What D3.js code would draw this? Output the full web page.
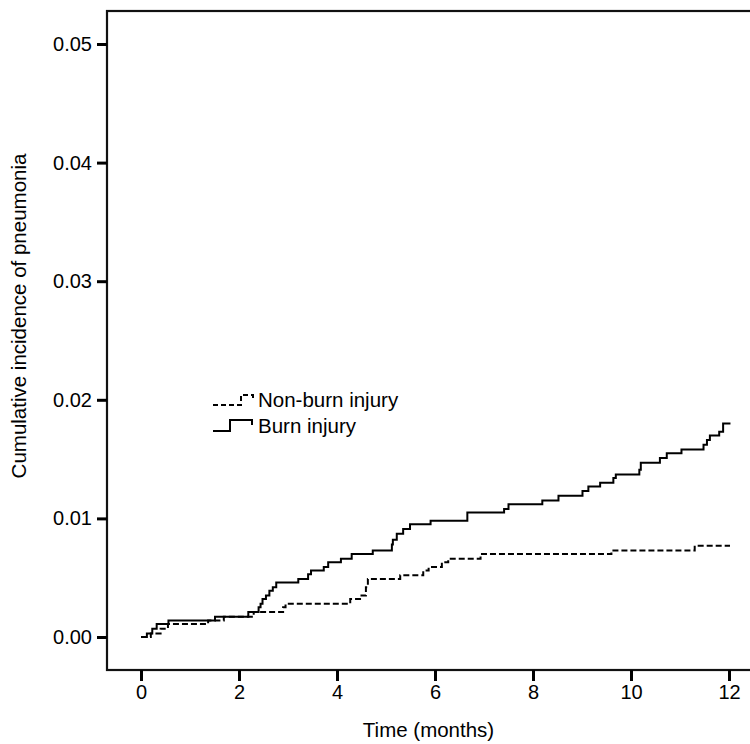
<!DOCTYPE html>
<html>
<head>
<meta charset="utf-8">
<script src="https://cdn.jsdelivr.net/npm/d3@7"></script>
<style>
  body { margin: 0; background: #fff; }
  text { font-family: Arial, "Liberation Sans", sans-serif; fill: #000; }
</style>
</head>
<body>
<div id="chart"></div>
<script>
// step points (time in months, cumulative incidence)
var burnTime = [0, 0.12, 0.23, 0.32, 0.56, 1.51, 2.19, 2.40, 2.44, 2.48, 2.55, 2.62, 2.69, 2.76, 3.21, 3.41, 3.47, 3.73, 3.82, 4.08, 4.30, 4.73, 5.12, 5.14, 5.22, 5.35, 5.49, 5.91, 6.66, 7.41, 7.50, 8.19, 8.52, 9.01, 9.13, 9.37, 9.64, 9.69, 10.17, 10.20, 10.59, 10.73, 11.03, 11.48, 11.55, 11.61, 11.80, 11.88, 12.03]
var burnValue = [0, 0.0003, 0.0007, 0.0011, 0.0014, 0.0017, 0.0021, 0.0025, 0.0028, 0.0032, 0.0035, 0.0039, 0.0042, 0.0046, 0.0049, 0.0053, 0.0056, 0.0059, 0.0063, 0.0066, 0.0070, 0.0073, 0.0078, 0.0082, 0.0087, 0.0091, 0.0095, 0.0098, 0.0105, 0.0108, 0.0112, 0.0115, 0.0119, 0.0123, 0.0127, 0.0130, 0.0134, 0.0137, 0.0141, 0.0147, 0.0151, 0.0155, 0.0158, 0.0162, 0.0166, 0.0170, 0.0173, 0.0180, 0.0180]

var nonBurnTime = [0, 0.20, 0.40, 0.55, 1.37, 1.69, 2.30, 2.90, 2.95, 4.27, 4.47, 4.59, 4.63, 5.29, 5.76, 5.87, 6.14, 6.27, 6.93, 9.60, 11.30, 12.02]
var nonBurnValue = [0, 0.0003, 0.0007, 0.0011, 0.0014, 0.0017, 0.0021, 0.0025, 0.0028, 0.0032, 0.0035, 0.0042, 0.0049, 0.0052, 0.0056, 0.0059, 0.0063, 0.0066, 0.0070, 0.0073, 0.0077, 0.0077]

var xTicks = [0, 2, 4, 6, 8, 10, 12]
var yTicks = [0, 0.01, 0.02, 0.03, 0.04, 0.05]
var legendLabels = ["Non-burn injury", "Burn injury"]

var width = 750
var height = 744
// frame of the plot (right side runs off the picture)
var frame = {left: 107, top: 11, right: 752, bottom: 670}

var svg = d3.select("#chart")
  .append("svg")
    .attr("width", width)
    .attr("height", height)

var x = d3.scaleLinear().domain([0, 12]).range([141, 729])
var y = d3.scaleLinear().domain([0, 0.05]).range([637, 44])

// box
svg.append("rect")
  .attr("x", frame.left)
  .attr("y", frame.top)
  .attr("width", frame.right - frame.left)
  .attr("height", frame.bottom - frame.top)
  .attr("fill", "none")
  .attr("stroke", "#111")
  .attr("stroke-width", 2.2)

// axes
var yAxis = svg.append("g")
  .attr("transform", "translate(" + frame.left + ",0)")
  .call(d3.axisLeft(y).tickValues(yTicks).tickFormat(d3.format(".2f")).tickSize(10).tickPadding(5))
var xAxis = svg.append("g")
  .attr("transform", "translate(0," + frame.bottom + ")")
  .call(d3.axisBottom(x).tickValues(xTicks).tickSize(11).tickPadding(4))

svg.selectAll(".domain").remove()
svg.selectAll(".tick line").attr("stroke", "#000").attr("stroke-width", 3)
svg.selectAll(".tick text")
  .style("font-size", "20px")
  .style("font-family", 'Arial, "Liberation Sans", sans-serif')
  .attr("fill", "#000")

// axis titles
svg.append("text")
  .attr("x", (frame.left + width) / 2)
  .attr("y", 737)
  .attr("text-anchor", "middle")
  .style("font-size", "20.5px")
  .text("Time (months)")

svg.append("text")
  .attr("transform", "translate(26,316) rotate(-90)")
  .attr("text-anchor", "middle")
  .style("font-size", "20.5px")
  .text("Cumulative incidence of pneumonia")

// the two step curves
var step = d3.line()
  .x(function(d) { return x(d[0]) })
  .y(function(d) { return y(d[1]) })
  .curve(d3.curveStepAfter)

svg.append("path")
  .datum(d3.zip(nonBurnTime, nonBurnValue))
  .attr("d", step)
  .attr("fill", "none")
  .attr("stroke", "#000")
  .attr("stroke-width", 2)
  .attr("stroke-dasharray", "6,3")

svg.append("path")
  .datum(d3.zip(burnTime, burnValue))
  .attr("d", step)
  .attr("fill", "none")
  .attr("stroke", "#000")
  .attr("stroke-width", 2)

// legend with little step symbols
var legend = svg.append("g").attr("transform", "translate(213,0)")
legend.append("path")
  .attr("d", "M0,405H28V395H40V399")
  .attr("fill", "none").attr("stroke", "#000").attr("stroke-width", 2)
  .attr("stroke-dasharray", "5,3")
legend.append("path")
  .attr("d", "M0,431H17V420H39V425")
  .attr("fill", "none").attr("stroke", "#000").attr("stroke-width", 2)

legend.selectAll("legendText")
  .data(legendLabels)
  .enter()
  .append("text")
  .attr("x", 45)
  .attr("y", function(d, i) { return 407 + i * 26 })
  .style("font-size", "20.5px")
  .text(function(d) { return d })
</script>
</body>
</html>
